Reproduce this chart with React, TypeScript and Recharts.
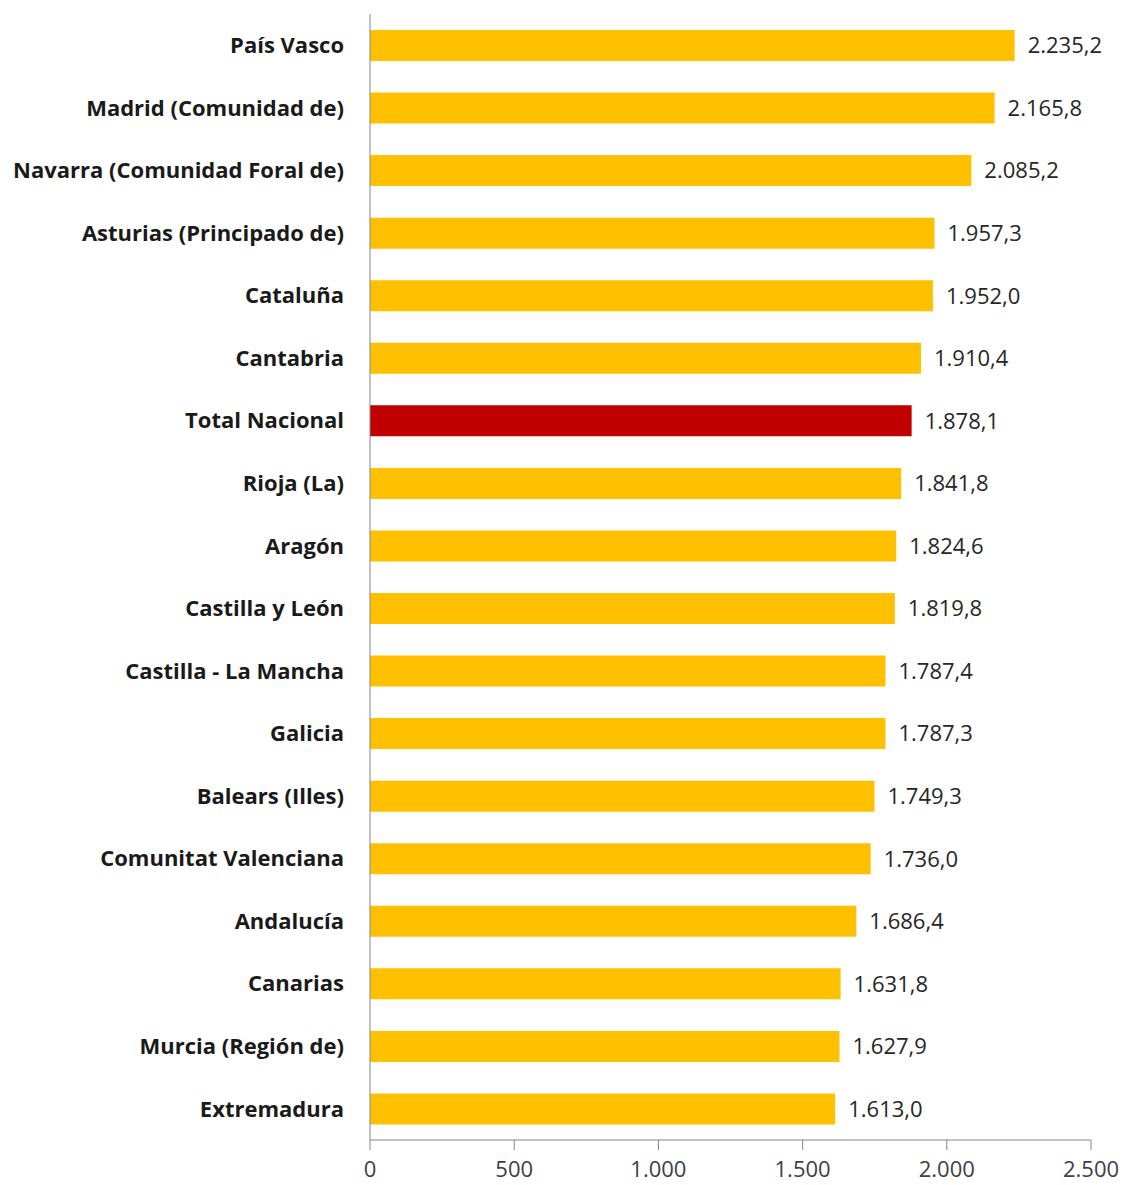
import { Bar, BarChart, Cell, LabelList, XAxis, YAxis } from "recharts";

const regions = [
  "País Vasco",
  "Madrid (Comunidad de)",
  "Navarra (Comunidad Foral de)",
  "Asturias (Principado de)",
  "Cataluña",
  "Cantabria",
  "Total Nacional",
  "Rioja (La)",
  "Aragón",
  "Castilla y León",
  "Castilla - La Mancha",
  "Galicia",
  "Balears (Illes)",
  "Comunitat Valenciana",
  "Andalucía",
  "Canarias",
  "Murcia (Región de)",
  "Extremadura",
];

const values = [
  2235.2, 2165.8, 2085.2, 1957.3, 1952.0, 1910.4, 1878.1, 1841.8, 1824.6,
  1819.8, 1787.4, 1787.3, 1749.3, 1736.0, 1686.4, 1631.8, 1627.9, 1613.0,
];

const xTicks = [0, 500, 1000, 1500, 2000, 2500];

const highlight = "Total Nacional";

const data = regions.map((name, i) => ({ name, value: values[i] }));

// es-ES style: dot for thousands, comma for decimals
function fmt(v: number, decimals: number) {
  const [int, dec] = v.toFixed(decimals).split(".");
  const grouped = int.replace(/\B(?=(\d{3})+(?!\d))/g, ".");
  return dec ? `${grouped},${dec}` : grouped;
}

const font = "'Open Sans', Lato, sans-serif";

export default function App() {
  return (
    <div style={{ position: "absolute", left: 0, top: 0, background: "#fff" }}>
      <BarChart
        width={1126}
        height={1185}
        data={data}
        layout="vertical"
        margin={{ top: 14, right: 35, bottom: 0, left: 0 }}
        barSize={31}
      >
        <XAxis
          type="number"
          dataKey="value"
          domain={[0, 2500]}
          ticks={xTicks}
          tickFormatter={(v) => fmt(v, 0)}
          axisLine={{ stroke: "#868686" }}
          tickLine={{ stroke: "#868686" }}
          tickSize={10}
          tickMargin={11}
          height={45}
          tick={{ fontSize: 22, fill: "#404040", fontFamily: font }}
          interval={0}
        />
        <YAxis
          type="category"
          dataKey="name"
          width={370}
          axisLine={{ stroke: "#868686" }}
          tickLine={false}
          tickMargin={20}
          interval={0}
          tick={{ fontSize: 22, fill: "#1a1a1a", fontWeight: 700, fontFamily: font }}
        />
        <Bar dataKey="value" fill="#FFC000" isAnimationActive={false}>
          {data.map((d) => (
            <Cell key={d.name} fill={d.name === highlight ? "#C00000" : "#FFC000"} />
          ))}
          <LabelList
            dataKey="value"
            position="right"
            offset={13}
            formatter={(v: any) => fmt(Number(v), 1)}
            style={{ fontSize: 22, fill: "#262626", fontFamily: font }}
          />
        </Bar>
      </BarChart>
    </div>
  );
}
